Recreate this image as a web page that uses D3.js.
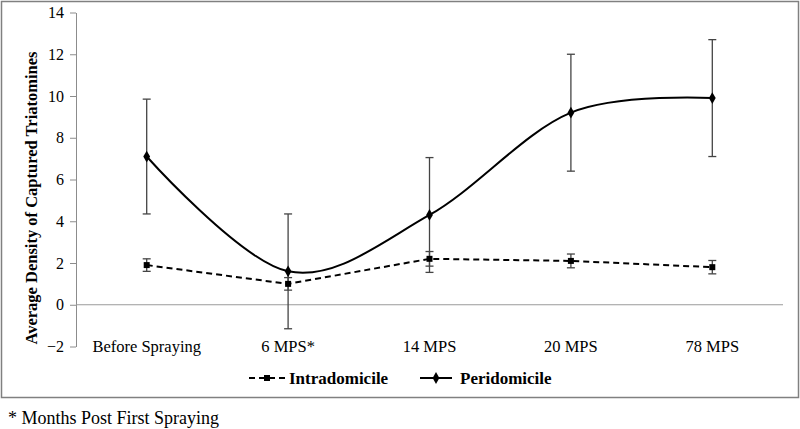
<!DOCTYPE html>
<html><head><meta charset="utf-8">
<script src="https://cdn.jsdelivr.net/npm/d3@7"></script>
<style>
body{margin:0;background:#fff;}
</style></head>
<body><svg id="c" width="800" height="429"></svg>
<script>
const categories = ["Before Spraying","6 MPS*","14 MPS","20 MPS","78 MPS"];
const intraValues = [1.9,1.0,2.2,2.1,1.8];
const intraErr = [0.3,0.3,0.35,0.33,0.32];
const periValues = [7.1,1.6,4.3,9.2,9.9];
const periErr = [2.75,2.75,2.75,2.8,2.8];
const yTicks = [-2,0,2,4,6,8,10,12,14];
const seriesNames = ["Intradomicile","Peridomicile"];
const FONT = "'Liberation Serif', 'Times New Roman', 'DejaVu Serif', serif";

const svg = d3.select("#c").attr("font-family",FONT);
svg.append("rect").attr("x",1.5).attr("y",1.5).attr("width",797).attr("height",396)
  .attr("fill","none").attr("stroke","#808080").attr("stroke-width",1.5);

const x = d3.scalePoint().domain(categories).range([76,783]).padding(0.5);
const y = d3.scaleLinear().domain([-2,14]).range([346.5,12.5]);

const ya = svg.append("g").attr("transform","translate(76,0)")
  .call(d3.axisLeft(y).tickValues(yTicks).tickSize(6).tickSizeOuter(0).tickPadding(6));
ya.attr("font-family",FONT).attr("font-size",16);
ya.selectAll("path,line").attr("stroke","#8c8c8c");
ya.selectAll("text").attr("fill","#000");

svg.append("line").attr("x1",76).attr("x2",783).attr("y1",y(0)).attr("y2",y(0))
  .attr("stroke","#9a9a9a").attr("stroke-width",1.2);

svg.append("g").attr("font-family",FONT).selectAll("text").data(categories).join("text")
  .attr("x",d=>x(d)).attr("y",352).attr("text-anchor","middle")
  .attr("font-size",16.5).text(d=>d);

svg.append("text").attr("transform","translate(37,198) rotate(-90)").attr("font-family",FONT)
  .attr("text-anchor","middle").attr("font-size",16.5).attr("font-weight","bold")
  .text("Average Density of Captured  Triatomines");

function errBars(vals, errs){
  const g = svg.append("g").attr("stroke","#444").attr("stroke-width",1.3);
  vals.forEach((v,i)=>{
    const cx = x(categories[i]);
    g.append("line").attr("x1",cx).attr("x2",cx).attr("y1",y(v+errs[i])).attr("y2",y(v-errs[i]));
    [v+errs[i], v-errs[i]].forEach(e=>{
      g.append("line").attr("x1",cx-4).attr("x2",cx+4).attr("y1",y(e)).attr("y2",y(e));
    });
  });
}
errBars(periValues, periErr);
errBars(intraValues, intraErr);

const periLine = d3.line().x((d,i)=>x(categories[i])).y(d=>y(d)).curve(d3.curveCardinal.tension(0));
svg.append("path").datum(periValues).attr("d",periLine).attr("fill","none")
  .attr("stroke","#000").attr("stroke-width",2);
const intraLine = d3.line().x((d,i)=>x(categories[i])).y(d=>y(d));
svg.append("path").datum(intraValues).attr("d",intraLine).attr("fill","none")
  .attr("stroke","#000").attr("stroke-width",2).attr("stroke-dasharray","6,4");

const diamond = d3.symbol().type(d3.symbolDiamond).size(40);
const square = d3.symbol().type(d3.symbolSquare).size(36);
svg.append("g").selectAll("path").data(periValues).join("path")
  .attr("d",diamond).attr("transform",(d,i)=>`translate(${x(categories[i])},${y(d)})`).attr("fill","#000");
svg.append("g").selectAll("path").data(intraValues).join("path")
  .attr("d",square).attr("transform",(d,i)=>`translate(${x(categories[i])},${y(d)})`).attr("fill","#000");

const ly = 378;
svg.append("line").attr("x1",249).attr("x2",285).attr("y1",ly).attr("y2",ly)
  .attr("stroke","#000").attr("stroke-width",2).attr("stroke-dasharray","6,4");
svg.append("path").attr("d",square).attr("transform",`translate(267,${ly})`);
svg.append("text").attr("x",289).attr("y",ly+6).attr("font-family",FONT).attr("font-size",17).attr("font-weight","bold").text(seriesNames[0]);
svg.append("line").attr("x1",420).attr("x2",452).attr("y1",ly).attr("y2",ly)
  .attr("stroke","#000").attr("stroke-width",2);
svg.append("path").attr("d",diamond).attr("transform",`translate(436,${ly})`);
svg.append("text").attr("x",460).attr("y",ly+6).attr("font-family",FONT).attr("font-size",17).attr("font-weight","bold").text(seriesNames[1]);

svg.append("text").attr("x",8).attr("y",424).attr("font-family",FONT).attr("font-size",18).text("* Months Post First Spraying");
</script></body></html>
